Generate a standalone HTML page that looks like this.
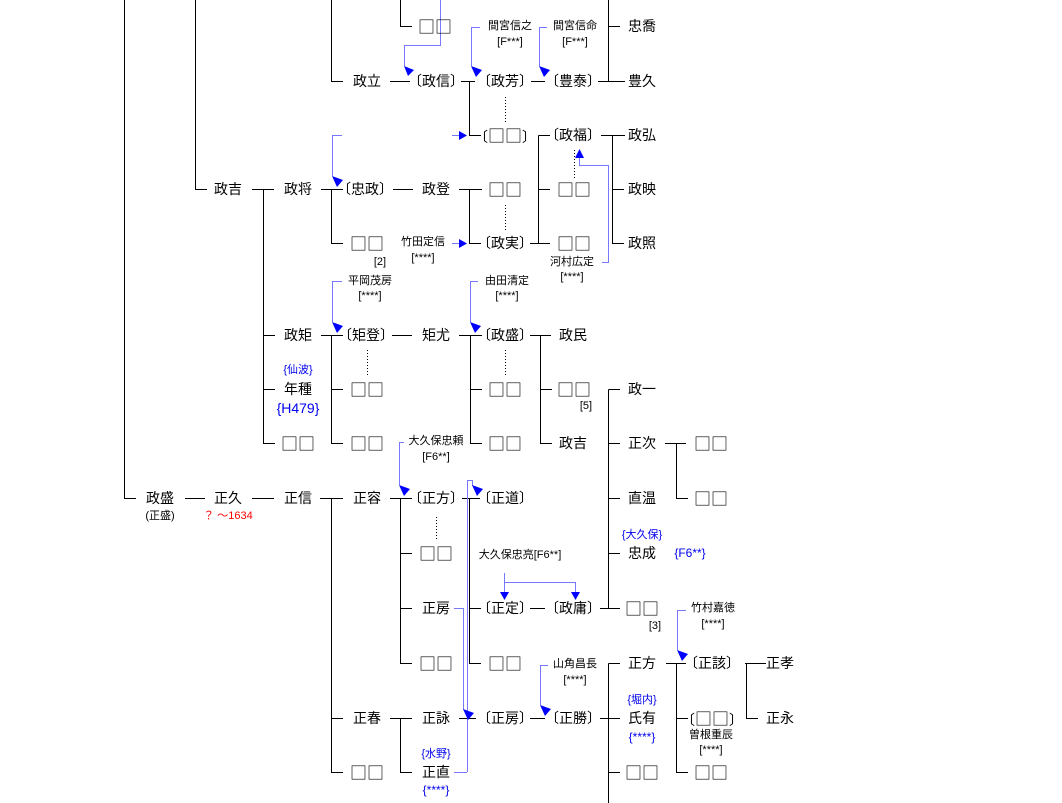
<!DOCTYPE html>
<html><head><meta charset="utf-8"><style>
html,body{margin:0;padding:0;background:#fff;}
body{width:1062px;height:803px;position:relative;overflow:hidden;font-family:"Liberation Sans","Noto Sans CJK JP",sans-serif;}
.t{position:absolute;width:120px;text-align:center;font-size:14px;line-height:18px;color:#000;white-space:nowrap;}
.s{position:absolute;width:120px;text-align:center;font-size:11px;line-height:14px;color:#000;white-space:nowrap;}
.q{font-family:"Noto Sans CJK JP","WenQuanYi Zen Hei",sans-serif;font-size:17px;line-height:18px;}
.b{color:#0000ee;}
.r{color:#ff0000;}
svg{position:absolute;left:0;top:0;}
</style></head><body>
<svg width="1062" height="803" viewBox="0 0 1062 803">
<g stroke="#000" stroke-width="1" fill="none" shape-rendering="crispEdges">
<path d="M124.5 0V498.5H136"/>
<path d="M195.5 0V189.5H207"/>
<path d="M331.5 0V81.5H343"/>
<path d="M400.5 0V26.5H412"/>
<path d="M390 81.5H410"/>
<path d="M461 81.5H475M469.5 81.5V135.5H481"/>
<path d="M531 81.5H545"/>
<path d="M598 81.5H625M608.5 0V81.5M608.5 26.5H620"/>
<path d="M252 189.5H274M263.5 189.5V443.5H275M263.5 335.5H275M263.5 389.5H275"/>
<path d="M321 189.5H343M331.5 189.5V243.5H343"/>
<path d="M393 189.5H413"/>
<path d="M459 189.5H482M469.5 189.5V243.5H481"/>
<path d="M530 243.5H550M538.5 135.5V243.5M538.5 135.5H550M538.5 189.5H550"/>
<path d="M601 135.5H625M612.5 135.5V243.5H624M612.5 189.5H624"/>
<path d="M321 335.5H343M331.5 335.5V443.5H343M331.5 389.5H343"/>
<path d="M392 335.5H412"/>
<path d="M459 335.5H482M470.5 335.5V443.5H482M470.5 389.5H482"/>
<path d="M530 335.5H551M540.5 335.5V443.5H552M540.5 389.5H552"/>
<path d="M608.5 389.5V608.5M608.5 389.5H620M608.5 443.5H620M608.5 498.5H620M608.5 553.5H620M600 608.5H620"/>
<path d="M665 443.5H686M676.5 443.5V498.5H688"/>
<path d="M185 498.5H205M252 498.5H274"/>
<path d="M320 498.5H343M331.5 498.5V772.5H343M331.5 718.5H343"/>
<path d="M390 498.5H412M400.5 498.5V663.5H412M400.5 553.5H412M400.5 608.5H412"/>
<path d="M462 498.5H480M469.5 498.5V663.5H481M469.5 608.5H481"/>
<path d="M530 608.5H545"/>
<path d="M390 718.5H412M400.5 718.5V772.5H412"/>
<path d="M459 718.5H476"/>
<path d="M530 718.5H545"/>
<path d="M600 718.5H620M608.5 663.5V803M608.5 663.5H620M608.5 772.5H620"/>
<path d="M666 663.5H686M676.5 663.5V772.5H688M676.5 718.5H688"/>
<path d="M745 663.5H766M746.5 663.5V718.5H758"/>
</g>
<g stroke="#000" stroke-width="1" stroke-dasharray="1,2" fill="none" shape-rendering="crispEdges">
<path d="M505.5 97V124M574.5 150V178M505.5 205V232M367.5 350V377M505.5 350V377M436.5 517V541"/>
</g>
<g stroke="#7777ff" stroke-width="1" fill="none" shape-rendering="crispEdges">
<path d="M440.5 0V45.5H404.5V66"/>
<path d="M480 27.5H471.5V66"/>
<path d="M547 27.5H539.5V66"/>
<path d="M452 135.5H460"/>
<path d="M342 135.5H332.5V176"/>
<path d="M602 262.5H608.5V165.5H579.5V157"/>
<path d="M452 243.5H460"/>
<path d="M342 281.5H332.5V322"/>
<path d="M478 281.5H470.5V322"/>
<path d="M404 442.5H399.5V485"/>
<path d="M467.5 772V480.5H472.5V486"/>
<path d="M454 608.5H463.5V710"/>
<path d="M454 772.5H467"/>
<path d="M504.5 573V592M504.5 582.5H575.5V592"/>
<path d="M548 665.5H540.5V705"/>
<path d="M686 610.5H677.5V650"/>
</g>
<g fill="#0000ff">
<polygon points="404,66 414,70 408,76"/>
<polygon points="471,66 482,70 476,77"/>
<polygon points="539,66 550,70 544,77"/>
<polygon points="459,131 467,135.5 459,140"/>
<polygon points="332,176 343,180 337,187"/>
<polygon points="575,158 579.5,149 584,158"/>
<polygon points="459,239 467,243.5 459,248"/>
<polygon points="332,322 343,326 337,333"/>
<polygon points="470,322 481,326 475,333"/>
<polygon points="399,485 410,489 404,496"/>
<polygon points="472,485 483,489 477,496"/>
<polygon points="500,592 509,592 504.5,600"/>
<polygon points="571,592 580,592 575.5,600"/>
<polygon points="463,709 474,713 468,720"/>
<polygon points="540,705 551,709 545,716"/>
<polygon points="677,650 688,654 682,661"/>
</g>
</svg>

<div class="t" style="left:375px;top:17px"><span class="q">□□</span></div>
<div class="s" style="left:450px;top:19px">間宮信之</div>
<div class="s" style="left:450px;top:35px">[F***]</div>
<div class="s" style="left:515px;top:19px">間宮信命</div>
<div class="s" style="left:515px;top:35px">[F***]</div>
<div class="t" style="left:582px;top:17px">忠喬</div>

<div class="t" style="left:307px;top:72px">政立</div>
<div class="t" style="left:376px;top:72px">〔政信〕</div>
<div class="t" style="left:445px;top:72px">〔政芳〕</div>
<div class="t" style="left:513px;top:72px">〔豊泰〕</div>
<div class="t" style="left:582px;top:72px">豊久</div>

<div class="t" style="left:445px;top:126px">〔<span class="q">□□</span>〕</div>
<div class="t" style="left:513px;top:126px">〔政福〕</div>
<div class="t" style="left:582px;top:126px">政弘</div>

<div class="t" style="left:168px;top:180px">政吉</div>
<div class="t" style="left:238px;top:180px">政将</div>
<div class="t" style="left:305px;top:180px">〔忠政〕</div>
<div class="t" style="left:376px;top:180px">政登</div>
<div class="t" style="left:445px;top:180px"><span class="q">□□</span></div>
<div class="t" style="left:514px;top:180px"><span class="q">□□</span></div>
<div class="t" style="left:582px;top:180px">政映</div>

<div class="t" style="left:307px;top:234px"><span class="q">□□</span></div>
<div class="s" style="left:320px;top:255px">[2]</div>
<div class="s" style="left:363px;top:235px">竹田定信</div>
<div class="s" style="left:363px;top:251px">[****]</div>
<div class="t" style="left:445px;top:234px">〔政実〕</div>
<div class="t" style="left:514px;top:234px"><span class="q">□□</span></div>
<div class="t" style="left:582px;top:234px">政照</div>
<div class="s" style="left:512px;top:255px">河村広定</div>
<div class="s" style="left:512px;top:270px">[****]</div>

<div class="s" style="left:310px;top:274px">平岡茂房</div>
<div class="s" style="left:310px;top:289px">[****]</div>
<div class="s" style="left:447px;top:274px">由田清定</div>
<div class="s" style="left:447px;top:289px">[****]</div>

<div class="t" style="left:238px;top:326px">政矩</div>
<div class="t" style="left:306px;top:326px">〔矩登〕</div>
<div class="t" style="left:376px;top:326px">矩尤</div>
<div class="t" style="left:445px;top:326px">〔政盛〕</div>
<div class="t" style="left:513px;top:326px">政民</div>

<div class="s b" style="left:238px;top:363px">{仙波}</div>
<div class="t" style="left:238px;top:380px">年種</div>
<div class="t b" style="left:238px;top:399px">{H479}</div>
<div class="t" style="left:307px;top:380px"><span class="q">□□</span></div>
<div class="t" style="left:445px;top:380px"><span class="q">□□</span></div>
<div class="t" style="left:514px;top:380px"><span class="q">□□</span></div>
<div class="s" style="left:526px;top:399px">[5]</div>
<div class="t" style="left:582px;top:380px">政一</div>

<div class="t" style="left:238px;top:434px"><span class="q">□□</span></div>
<div class="t" style="left:307px;top:434px"><span class="q">□□</span></div>
<div class="s" style="left:376px;top:434px">大久保忠頼</div>
<div class="s" style="left:376px;top:450px">[F6**]</div>
<div class="t" style="left:445px;top:434px"><span class="q">□□</span></div>
<div class="t" style="left:513px;top:434px">政吉</div>
<div class="t" style="left:582px;top:434px">正次</div>
<div class="t" style="left:651px;top:434px"><span class="q">□□</span></div>

<div class="t" style="left:100px;top:489px">政盛</div>
<div class="s" style="left:100px;top:509px">(正盛)</div>
<div class="t" style="left:168px;top:489px">正久</div>
<div class="s r" style="left:168px;top:509px">？ ～1634</div>
<div class="t" style="left:238px;top:489px">正信</div>
<div class="t" style="left:307px;top:489px">正容</div>
<div class="t" style="left:376px;top:489px">〔正方〕</div>
<div class="t" style="left:445px;top:489px">〔正道〕</div>
<div class="t" style="left:582px;top:489px">直温</div>
<div class="t" style="left:651px;top:489px"><span class="q">□□</span></div>

<div class="s b" style="left:582px;top:528px">{大久保}</div>
<div class="t" style="left:376px;top:544px"><span class="q">□□</span></div>
<div class="s" style="left:460px;top:548px">大久保忠亮[F6**]</div>
<div class="t" style="left:582px;top:544px">忠成</div>
<div class="s b" style="left:630px;top:546px;font-size:12px">{F6**}</div>

<div class="t" style="left:376px;top:599px">正房</div>
<div class="t" style="left:445px;top:599px">〔正定〕</div>
<div class="t" style="left:513px;top:599px">〔政庸〕</div>
<div class="t" style="left:582px;top:599px"><span class="q">□□</span></div>
<div class="s" style="left:595px;top:619px">[3]</div>
<div class="s" style="left:653px;top:601px">竹村嘉徳</div>
<div class="s" style="left:653px;top:617px">[****]</div>

<div class="t" style="left:376px;top:654px"><span class="q">□□</span></div>
<div class="t" style="left:445px;top:654px"><span class="q">□□</span></div>
<div class="s" style="left:515px;top:657px">山角昌長</div>
<div class="s" style="left:515px;top:673px">[****]</div>
<div class="t" style="left:582px;top:654px">正方</div>
<div class="t" style="left:652px;top:654px">〔正該〕</div>
<div class="t" style="left:720px;top:654px">正孝</div>

<div class="s b" style="left:582px;top:693px">{堀内}</div>
<div class="t" style="left:307px;top:709px">正春</div>
<div class="t" style="left:376px;top:709px">正詠</div>
<div class="t" style="left:445px;top:709px">〔正房〕</div>
<div class="t" style="left:513px;top:709px">〔正勝〕</div>
<div class="t" style="left:582px;top:709px">氏有</div>
<div class="t" style="left:652px;top:709px">〔<span class="q">□□</span>〕</div>
<div class="t" style="left:720px;top:709px">正永</div>
<div class="s b" style="left:582px;top:730px;font-size:12px">{****}</div>
<div class="s" style="left:651px;top:728px">曽根重辰</div>
<div class="s" style="left:651px;top:743px">[****]</div>

<div class="s b" style="left:376px;top:747px">{水野}</div>
<div class="t" style="left:307px;top:763px"><span class="q">□□</span></div>
<div class="t" style="left:376px;top:763px">正直</div>
<div class="t" style="left:582px;top:763px"><span class="q">□□</span></div>
<div class="t" style="left:651px;top:763px"><span class="q">□□</span></div>
<div class="s b" style="left:376px;top:783px;font-size:12px">{****}</div>
</body></html>
